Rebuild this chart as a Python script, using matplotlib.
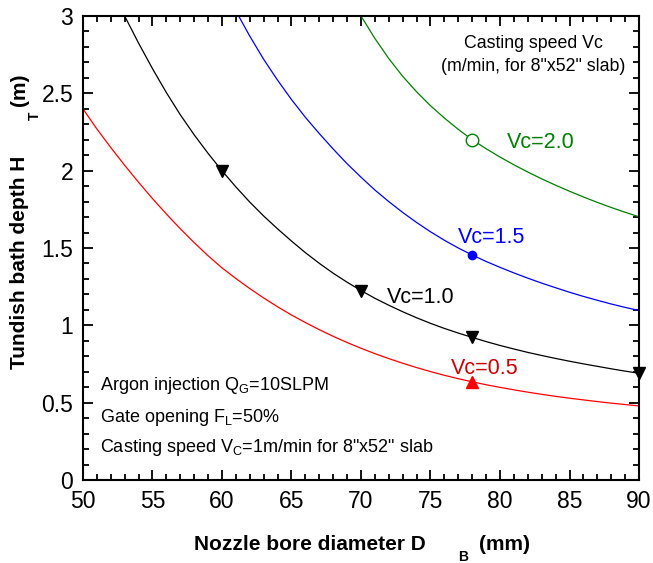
import matplotlib
matplotlib.use("Agg")
import matplotlib.pyplot as plt
from matplotlib.ticker import MultipleLocator

plt.rcParams['font.family'] = ['Liberation Sans', 'DejaVu Sans']
plt.rcParams['mathtext.fontset'] = 'custom'
plt.rcParams['mathtext.rm'] = 'Liberation Sans'
plt.rcParams['mathtext.it'] = 'Liberation Sans'
plt.rcParams['mathtext.bf'] = 'Liberation Sans:bold'

# Vc = 0.5 (red)
red_x = [50, 51, 52, 53, 54, 55, 56, 57, 58, 59, 60, 61, 62, 63, 64, 65, 66, 67, 68, 69, 70,
         71, 72, 73, 74, 75, 76, 77, 78, 79, 80, 81, 82, 83, 84, 85, 86, 87, 88, 89, 90]
red_y = [2.400, 2.270, 2.150, 2.035, 1.925, 1.820, 1.720, 1.625, 1.535, 1.450, 1.372,
         1.303, 1.238, 1.177, 1.120, 1.067, 1.018, 0.972, 0.929, 0.889, 0.852,
         0.817, 0.785, 0.755, 0.727, 0.701, 0.677, 0.655, 0.635, 0.616, 0.599,
         0.583, 0.568, 0.554, 0.541, 0.529, 0.518, 0.507, 0.497, 0.488, 0.479]
# Vc = 1.0 (black)
black_x = [53, 54, 55, 56, 57, 58, 59, 60, 61, 62, 63, 64, 65, 66, 67, 68, 69, 70,
           71, 72, 73, 74, 75, 76, 77, 78, 79, 80, 81, 82, 83, 84, 85, 86, 87, 88, 89, 90]
black_y = [3.000, 2.825, 2.660, 2.505, 2.362, 2.232, 2.112, 2.000, 1.895, 1.797, 1.707,
           1.624, 1.545, 1.470, 1.401, 1.337, 1.279, 1.225, 1.175, 1.130, 1.088, 1.049,
           1.013, 0.980, 0.950, 0.922, 0.895, 0.870, 0.847, 0.825, 0.805, 0.786, 0.768,
           0.751, 0.735, 0.719, 0.704, 0.690]
# Vc = 1.5 (blue)
blue_x = [61.2, 62, 63, 64, 65, 66, 67, 68, 69, 70, 71, 72, 73, 74, 75, 76, 77, 78,
          79, 80, 81, 82, 83, 84, 85, 86, 87, 88, 89, 90]
blue_y = [3.000, 2.870, 2.720, 2.585, 2.460, 2.345, 2.240, 2.140, 2.045, 1.958, 1.875,
          1.800, 1.730, 1.665, 1.605, 1.550, 1.500, 1.455, 1.413, 1.375, 1.339, 1.305,
          1.273, 1.243, 1.214, 1.187, 1.162, 1.138, 1.116, 1.096]
# Vc = 2.0 (green)
green_x = [70, 71, 72, 73, 74, 75, 76, 77, 78, 79, 80, 81, 82, 83, 84, 85, 86, 87, 88, 89, 90]
green_y = [3.000, 2.855, 2.725, 2.610, 2.510, 2.420, 2.340, 2.267, 2.200, 2.142, 2.088,
           2.038, 1.991, 1.947, 1.906, 1.867, 1.830, 1.795, 1.762, 1.731, 1.702]

# marker points
red_mx, red_my = [78], [0.635]
black_mx, black_my = [60, 70, 78, 90], [2.0, 1.225, 0.922, 0.69]
blue_mx, blue_my = [78], [1.455]
green_mx, green_my = [78], [2.20]

fig = plt.figure(figsize=(6.53, 5.63), dpi=100)
ax = fig.add_axes([0.127, 0.1474, 0.8516, 0.8242])

lw = 0.9
ax.plot(red_x, red_y, color='#ff0000', lw=lw)
ax.plot(black_x, black_y, color='black', lw=lw)
ax.plot(blue_x, blue_y, color='#0000ff', lw=lw)
ax.plot(green_x, green_y, color='#008000', lw=lw)

ax.plot(red_mx, red_my, '^', color='#ff0000', ms=9, clip_on=False)
ax.plot(black_mx, black_my, 'v', color='black', ms=9, clip_on=False)
ax.plot(blue_mx, blue_my, 'o', color='#0000ff', ms=6, clip_on=False)
ax.plot(green_mx, green_my, 'o', mfc='white', mec='#008000', mew=1.0, ms=9, clip_on=False)

ax.set_xlim(50, 90)
ax.set_ylim(0, 3)
ax.xaxis.set_major_locator(MultipleLocator(5))
ax.xaxis.set_minor_locator(MultipleLocator(1))
ax.yaxis.set_major_locator(MultipleLocator(0.5))
ax.yaxis.set_minor_locator(MultipleLocator(0.1))
ax.set_yticks([0, 0.5, 1, 1.5, 2, 2.5, 3])
ax.set_yticklabels(['0', '0.5', '1', '1.5', '2', '2.5', '3'])
ax.tick_params(which='both', direction='in', top=True, right=True, width=1.3)
ax.tick_params(which='major', length=7, labelsize=16.5, pad=7)
ax.tick_params(which='minor', length=4)
for s in ax.spines.values():
    s.set_linewidth(1.5)

# curve labels
ax.text(80.5, 2.18, 'Vc=2.0', color='#008000', fontsize=15.5, va='center', ha='left')
ax.text(77.0, 1.57, 'Vc=1.5', color='#0000ff', fontsize=15.5, va='center', ha='left')
ax.text(71.9, 1.18, 'Vc=1.0', color='black', fontsize=15.5, va='center', ha='left')
ax.text(76.5, 0.72, 'Vc=0.5', color='#cc0000', fontsize=15.5, va='center', ha='left')

ax.text(82.4, 2.82, 'Casting speed Vc', fontsize=12.8, ha='center', va='center')
ax.text(82.4, 2.675, '(m/min, for 8"x52" slab)', fontsize=12.8, ha='center', va='center')

ax.text(51.2, 0.614, r'Argon injection Q$_\mathregular{G}$=10SLPM', fontsize=13, va='center')
ax.text(51.2, 0.407, r'Gate opening F$_\mathregular{L}$=50%', fontsize=13, va='center')
ax.text(51.2, 0.207, r'Casting speed V$_\mathregular{C}$=1m/min for 8"x52" slab', fontsize=13, va='center')

# axis labels (with detached subscripts as in the reference)
fig.text(310 / 653, 1 - 545 / 563, 'Nozzle bore diameter D', fontsize=15, fontweight='bold',
         ha='center', va='center')
fig.text(463 / 653, 1 - 557 / 563, 'B', fontsize=10, fontweight='bold', ha='center', va='center')
fig.text(505 / 653, 1 - 545 / 563, '(mm)', fontsize=15, fontweight='bold', ha='center', va='center')

fig.text(20 / 653, 1 - 262 / 563, 'Tundish bath depth H', fontsize=15, fontweight='bold',
         ha='center', va='center', rotation=90)
fig.text(35 / 653, 1 - 116 / 563, 'T', fontsize=10, fontweight='bold', ha='center', va='center',
         rotation=90)
fig.text(20 / 653, 1 - 90 / 563, '(m)', fontsize=15, fontweight='bold', ha='center', va='center',
         rotation=90)

fig.savefig('out.png', dpi=100, facecolor='white')
